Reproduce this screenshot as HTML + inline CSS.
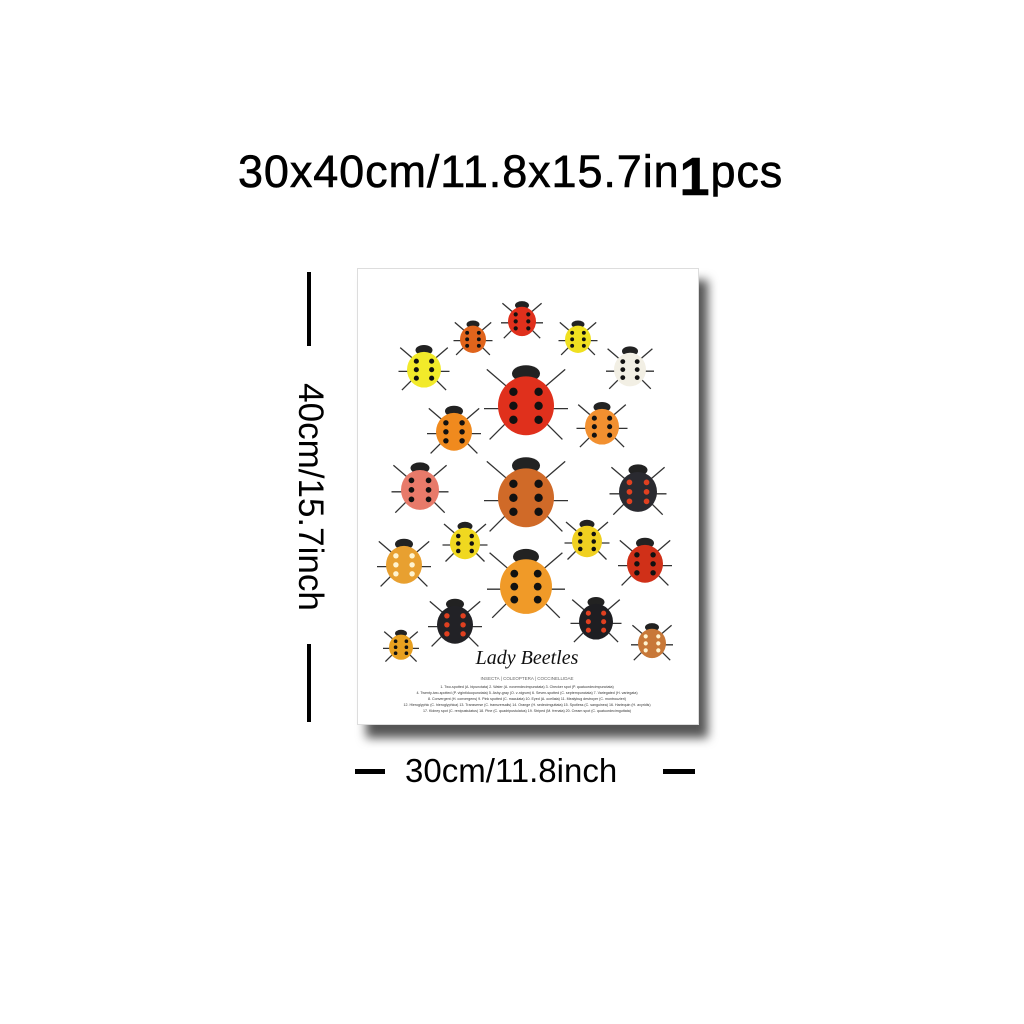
<!DOCTYPE html>
<html><head><meta charset="utf-8"><style>
body{margin:0;width:1024px;height:1024px;background:#fff;overflow:hidden;position:relative;font-family:"Liberation Sans",sans-serif}
.t{position:absolute;color:#000;white-space:nowrap}
</style></head><body>
<div class="t" style="left:238px;top:138px;font-size:45px;letter-spacing:0.9px;-webkit-text-stroke:0.6px #000">30x40cm/11.8x15.7in<span style="font-size:54px;font-weight:bold;position:relative;top:8px">1</span>pcs</div>
<div style="position:absolute;left:307px;top:272px;width:4px;height:74px;background:#000"></div>
<div style="position:absolute;left:307px;top:644px;width:4px;height:78px;background:#000"></div>
<div class="t" style="left:310px;top:497px;font-size:35px;transform:translate(-50%,-50%) rotate(90deg)">40cm/15.7inch</div>
<div style="position:absolute;left:355px;top:769px;width:30px;height:5px;background:#000"></div>
<div style="position:absolute;left:663px;top:769px;width:32px;height:5px;background:#000"></div>
<div class="t" style="left:405px;top:752px;font-size:33px">30cm/11.8inch</div>
<div style="position:absolute;left:366px;top:280px;width:342px;height:458px;background:#555;filter:blur(5px)"></div>
<div style="position:absolute;left:357px;top:268px;width:340px;height:455px;background:#fff;border:1px solid #ddd"></div>
<svg width="1024" height="1024" style="position:absolute;left:0;top:0">
<g id="b"></g>
<text x="527" y="664" text-anchor="middle" font-family="Liberation Serif,serif" font-style="italic" font-size="20" fill="#111">Lady Beetles</text>
<text x="527" y="680" text-anchor="middle" font-size="4.5" fill="#666" font-family="Liberation Sans,sans-serif">INSECTA | COLEOPTERA | COCCINELLIDAE</text>
<g font-size="3.6" fill="#333" font-family="Liberation Sans,sans-serif" text-anchor="middle">
<text x="527" y="688">1. Two-spotted (A. bipunctata) 2. Water (A. novemdecimpunctata) 3. Checker spot (P. quatuordecimpunctata)</text>
<text x="527" y="694">4. Twenty-two-spotted (P. vigintiduopunctata) 5. Ashy-gray (O. v-nigrum) 6. Seven-spotted (C. septempunctata) 7. Variegated (H. variegata)</text>
<text x="527" y="700">8. Convergent (H. convergens) 9. Pink spotted (C. maculata) 10. Eyed (A. ocellata) 11. Mealybug destroyer (C. montrouzieri)</text>
<text x="527" y="706">12. Hieroglyphic (C. hieroglyphica) 13. Transverse (C. transversalis) 14. Orange (H. sedecimguttata) 15. Spotless (C. sanguinea) 16. Harlequin (H. axyridis)</text>
<text x="527" y="712">17. Kidney spot (C. renipustulatus) 18. Pine (C. quadripustulatus) 19. Striped (M. frenata) 20. Cream spot (C. quatuordecimguttata)</text>
</g>
</svg>
<script>
const beetleX=[522,473,578,424,630,526,454,602,420,526,638,465,587,404,645,526,455,596,401,652];
const beetleY=[320,338,338,368,368,403,430,425,488,495,490,542,540,563,562,584,623,620,646,642];
const beetleR=[14,13,13,17,16,28,18,17,19,28,19,15,15,18,18,26,18,17,12,14];
const beetleC=["#e0301c","#e0641c","#f0e020","#f2ea2a","#f2efe4","#e0301c","#f08a1e","#f29030","#e87a6a","#d06a28","#2a2a30","#f0d820","#f0d020","#e8a030","#d03018","#f09a28","#222226","#1e1e22","#e8a020","#c87838"];
const g=document.getElementById('b');const ns='http://www.w3.org/2000/svg';
beetleX.forEach((x,i)=>{const r=beetleR[i],y=beetleY[i];
 const legs=document.createElementNS(ns,'path');
 
 
 legs.setAttribute('d',`M${x-r*1.4},${y-r*1.2}L${x},${y}L${x+r*1.4},${y-r*1.2}M${x-r*1.5},${y+r*0.2}L${x+r*1.5},${y+r*0.2}M${x-r*1.3},${y+r*1.3}L${x},${y}L${x+r*1.3},${y+r*1.3}`);
 legs.setAttribute('stroke','#333');legs.setAttribute('stroke-width','1.3');legs.setAttribute('fill','none');g.appendChild(legs);
 const h=document.createElementNS(ns,'ellipse');
 
 
 h.setAttribute('cx',x);h.setAttribute('cy',y-r*1.05);h.setAttribute('rx',r*0.5);h.setAttribute('ry',r*0.3);h.setAttribute('fill','#222');g.appendChild(h);
 const e=document.createElementNS(ns,'ellipse');
 
 
 e.setAttribute('cx',x);e.setAttribute('cy',y+r*0.1);e.setAttribute('rx',r);e.setAttribute('ry',r*1.05);e.setAttribute('fill',beetleC[i]);g.appendChild(e);
 for(let k=0;k<6;k++){const s=document.createElementNS(ns,'circle');
  
  
  s.setAttribute('cx',x+(k%2?1:-1)*r*0.45);s.setAttribute('cy',y-r*0.4+Math.floor(k/2)*r*0.5);s.setAttribute('r',r*0.15);
  s.setAttribute('fill',(i==10||i==16||i==17)?'#e04020':(i==13||i==19)?'#fff4d0':'#111');g.appendChild(s);}
});
</script>
</body></html>
